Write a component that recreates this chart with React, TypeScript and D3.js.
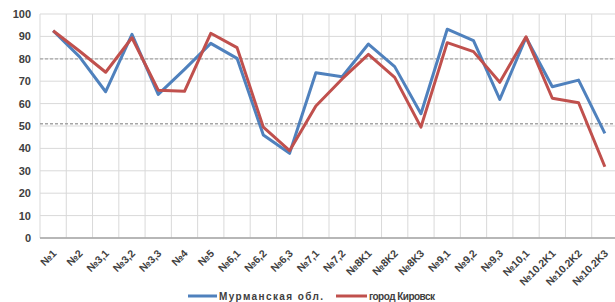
import React from "react";
import * as d3 from "d3";

const categories = ["№1","№2","№3,1","№3,2","№3,3","№4","№5","№6,1","№6,2","№6,3","№7,1","№7,2","№8K1","№8K2","№8K3","№9,1","№9,2","№9,3","№10,1","№10.2K1","№10.2K2","№10.2K3"];
const murmansk = [92.5,81,65.3,90.9,64.1,75.3,86.9,80.2,46,37.8,73.8,72,86.6,76.5,55.5,93.2,88.1,61.9,89.5,67.5,70.5,46.7];
const kirovsk = [92.5,83.5,74,89.4,66,65.5,91.4,85,49.5,39,58.9,71,82,71.7,49.5,87.2,83.2,69.5,89.8,62.4,60.4,31.8];
const refLines = [80, 51];
const yTicks = [0,10,20,30,40,50,60,70,80,90,100];
const seriesNames = ["Мурманская обл.", "город Кировск"];
const colors = ["#4f81bd", "#c0504d"];

export default function App() {
  const W = 615, H = 302;
  const left = 40, right = 618, top = 14, bottom = 238;
  const x = d3.scaleBand<string>().domain(categories).range([left, right]);
  const y = d3.scaleLinear().domain([0, 100]).range([bottom, top]);
  const cx = (c: string) => (x(c) as number) + x.bandwidth() / 2;
  const line = d3.line<number>().x((_, i) => cx(categories[i])).y(d => y(d));
  const font = "'Liberation Sans', Arial, sans-serif";
  return (
    <svg width={W} height={H} style={{ position: "absolute", left: 0, top: 0, background: "#fff" }}>
      {yTicks.map(t => (
        <line key={"h" + t} x1={left} x2={right} y1={y(t)} y2={y(t)} stroke="#d9d9d9" strokeWidth={1} />
      ))}
      {categories.map((c, i) => (
        <line key={"v" + i} x1={x(c) as number} x2={x(c) as number} y1={top} y2={bottom} stroke="#d9d9d9" strokeWidth={1} />
      ))}
      {refLines.map(r => (
        <line key={"r" + r} x1={left} x2={right} y1={y(r)} y2={y(r)} stroke="#a6a6a6" strokeWidth={1.3} strokeDasharray="3,2" />
      ))}
      <line x1={left} x2={right} y1={bottom} y2={bottom} stroke="#a6a6a6" strokeWidth={1.5} />
      {yTicks.map(t => (
        <text key={"yl" + t} x={31} y={y(t) + 4} textAnchor="end" fontFamily={font} fontWeight="bold" fontSize={11} fill="#404040">{t}</text>
      ))}
      {categories.map((c, i) => (
        <text key={"xl" + i} transform={`translate(${cx(c) + 4},${bottom + 16}) rotate(-45)`} textAnchor="end" fontFamily={font} fontWeight="bold" fontSize={10.5} fill="#404040">{c}</text>
      ))}
      <path d={line(murmansk) as string} fill="none" stroke={colors[0]} strokeWidth={3} strokeLinejoin="round" />
      <path d={line(kirovsk) as string} fill="none" stroke={colors[1]} strokeWidth={3} strokeLinejoin="round" />
      <g>
        <line x1={188} x2={217} y1={296} y2={296} stroke={colors[0]} strokeWidth={3} />
        <text x={219} y={300} textLength={104} lengthAdjust="spacing" fontFamily={font} fontWeight="bold" fontSize={10} fill="#404040">{seriesNames[0]}</text>
        <line x1={336} x2={367} y1={296} y2={296} stroke={colors[1]} strokeWidth={3} />
        <text x={369} y={300} textLength={66} lengthAdjust="spacing" fontFamily={font} fontWeight="bold" fontSize={10} fill="#404040">{seriesNames[1]}</text>
      </g>
    </svg>
  );
}
